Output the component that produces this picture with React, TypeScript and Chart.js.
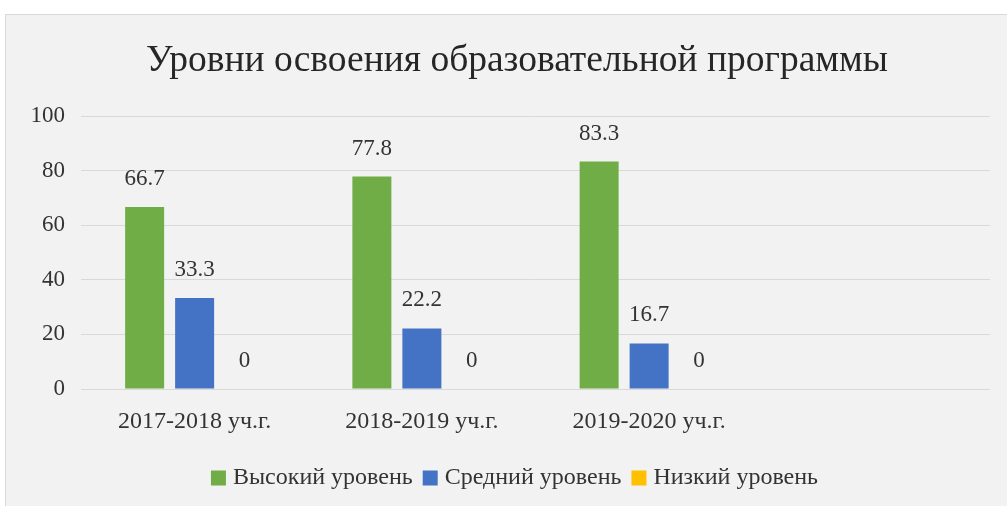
import React, { useEffect, useRef } from "react";
import { Chart, registerables } from "chart.js";

Chart.register(...registerables);

const categories = ["2017-2018 уч.г.", "2018-2019 уч.г.", "2019-2020 уч.г.", ""];
const seriesNames = ["Высокий уровень", "Средний уровень", "Низкий уровень"];
const highValues = [66.7, 77.8, 83.3, null];
const midValues = [33.3, 22.2, 16.7, null];
const lowValues = [0, 0, 0, null];
const seriesColors = ["#70ad47", "#4472c4", "#ffc000"];
const titleText = "Уровни освоения образовательной программы";

const FONT = "'Liberation Serif', 'Times New Roman', serif";
const TEXT = "#333333";

const dataLabels = {
  id: "dataLabels",
  afterDatasetsDraw(chart: any) {
    const ctx = chart.ctx;
    ctx.save();
    ctx.font = `23px ${FONT}`;
    ctx.fillStyle = TEXT;
    ctx.textAlign = "center";
    ctx.textBaseline = "middle";
    chart.data.datasets.forEach((ds: any, i: number) => {
      const meta = chart.getDatasetMeta(i);
      meta.data.forEach((el: any, j: number) => {
        const v = ds.data[j];
        if (v === null || v === undefined) return;
        ctx.fillText(String(v), el.x, el.y - 28);
      });
    });
    ctx.restore();
  },
};

export default function App() {
  const ref = useRef<HTMLCanvasElement>(null);
  useEffect(() => {
    const chart = new Chart(ref.current!, {
      type: "bar",
      data: {
        labels: categories,
        datasets: [
          { label: seriesNames[0], data: highValues, backgroundColor: seriesColors[0] },
          { label: seriesNames[1], data: midValues, backgroundColor: seriesColors[1] },
          { label: seriesNames[2], data: lowValues, backgroundColor: seriesColors[2] },
        ],
      },
      options: {
        animation: false,
        responsive: false,
        devicePixelRatio: 1,
        datasets: { bar: { categoryPercentage: 0.66, barPercentage: 0.78 } },
        layout: { padding: { top: 39, left: 27, right: 0, bottom: 6 } },
        plugins: {
          tooltip: { enabled: false },
          title: {
            display: true,
            text: titleText,
            color: "#262626",
            font: { family: FONT, size: 37.5, weight: "normal" },
            padding: { top: 0, bottom: 32 },
          },
          legend: {
            position: "bottom",
            labels: {
              color: TEXT,
              font: { family: FONT, size: 24 },
              usePointStyle: true,
              pointStyle: "rect",
              boxWidth: 5,
              boxHeight: 15,
              padding: 15,
            },
          },
        },
        scales: {
          x: {
            afterFit: (s: any) => { s.height = 62; },
            grid: { display: false, drawTicks: false },
            border: { display: false },
            ticks: { color: TEXT, font: { family: FONT, size: 24 }, padding: 18 },
          },
          y: {
            min: 0,
            max: 100,
            afterFit: (s: any) => { s.width = 54; },
            grid: { color: "#d9d9d9", drawTicks: false },
            border: { display: false },
            ticks: { stepSize: 20, color: TEXT, font: { family: FONT, size: 23 }, padding: 16 },
          },
          yRight: {
            position: "right",
            min: 0,
            max: 100,
            afterFit: (s: any) => { s.width = 17; },
            grid: { display: false, drawTicks: false },
            border: { display: false },
            ticks: { display: false },
          },
        },
      },
      plugins: [dataLabels],
    });
    return () => chart.destroy();
  }, []);
  return (
    <div style={{ position: "fixed", left: 0, top: 0, width: 1007, height: 506, background: "#fff", overflow: "hidden" }}>
      <div style={{ position: "absolute", left: 5, top: 14, width: 1010, height: 500, background: "#f2f2f2", border: "1px solid #d9d9d9" }} />
      <canvas ref={ref} width={1007} height={506} style={{ position: "absolute", left: 0, top: 0 }} />
    </div>
  );
}
